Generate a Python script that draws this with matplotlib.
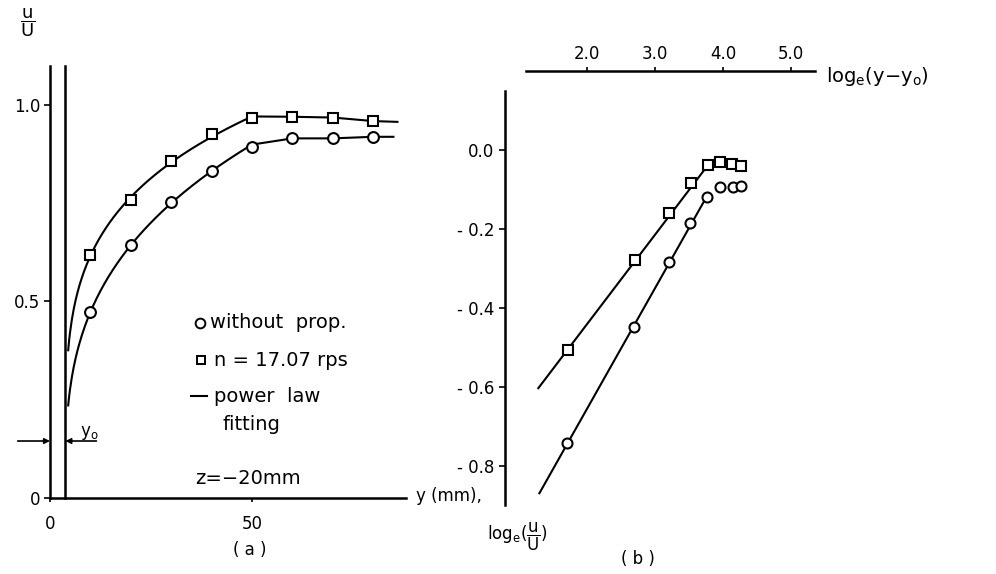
import numpy as np
import matplotlib
matplotlib.use("Agg")
import matplotlib.pyplot as plt
from matplotlib.lines import Line2D

plt.rcParams['font.family'] = ['DejaVu Sans']
plt.rcParams['mathtext.default'] = 'regular'

# ---- (a) velocity profile u/U against y ----
y_mm = [10, 20, 30, 40, 50, 60, 70, 80]
u_plain = [0.472, 0.644, 0.754, 0.833, 0.894, 0.915, 0.915, 0.919]
u_prop = [0.618, 0.758, 0.857, 0.926, 0.966, 0.970, 0.968, 0.959]
y_zero = 3.8
y_end = [85, 86]            # right end of the plain / propeller curves
u_end = [0.919, 0.957]
n_fit = 5                   # points used for the power-law fit

# ---- (b) log-log form ----
ln_y_plain = [1.71, 2.69, 3.20, 3.51, 3.76, 3.96, 4.15, 4.26]
ln_u_plain = [-0.743, -0.447, -0.283, -0.184, -0.118, -0.093, -0.093, -0.091]
ln_y_prop = [1.725, 2.706, 3.21, 3.53, 3.78, 3.956, 4.137, 4.265]
ln_u_prop = [-0.506, -0.278, -0.159, -0.083, -0.038, -0.031, -0.035, -0.041]
fit_x_plain = [1.30, 3.76]
fit_y_plain = [-0.869, -0.118]
fit_x_prop = [1.284, 3.78]
fit_y_prop = [-0.603, -0.038]

W, H = 996, 574
fig = plt.figure(figsize=(W / 100, H / 100), dpi=100)


def fp(px, py):
    return px / W, 1 - py / H


LW = 1.5
MK = dict(markerfacecolor='white', markeredgecolor='black', markeredgewidth=1.5,
          color='black', zorder=5, clip_on=False)
FS = 12

# ------------------------------------------------------------ panel (a)
axa = fig.add_axes([50 / W, (H - 498) / H, 363.6 / W, 440.2 / H])
axa.set_xlim(0, 90)
axa.set_ylim(0, 1.12)
for s in ('top', 'right'):
    axa.spines[s].set_visible(False)
axa.spines['left'].set_bounds(0, 1.10)
axa.spines['bottom'].set_bounds(0, 88)
for s in ('left', 'bottom'):
    axa.spines[s].set_linewidth(1.8)
axa.set_xticks([0, 50])
axa.set_xticklabels(['0', '50'], fontsize=FS)
axa.set_yticks([0, 0.5, 1.0])
axa.set_yticklabels(['0', '0.5', '1.0'], fontsize=FS)
axa.tick_params(axis='x', direction='out', length=3, width=1.2, pad=9)
axa.tick_params(axis='y', direction='out', length=4, width=1.2, pad=3)

# second wall line at y0
axa.plot([y_zero, y_zero], [0, 1.10], color='black', lw=1.8, clip_on=False)


def power_curve(u_vals, y_stop, u_stop):
    yy = np.array(y_mm[:n_fit]) - y_zero
    n, c = np.polyfit(np.log(yy), np.log(u_vals[:n_fit]), 1)
    xs = np.linspace(0.7, y_mm[n_fit - 1] - y_zero, 200)
    cx = list(xs + y_zero) + list(y_mm[n_fit:]) + [y_stop]
    cy = list(np.exp(c) * xs ** n) + list(u_vals[n_fit:]) + [u_stop]
    return cx, cy


for u_vals, ye, ue, mk, ms in ((u_plain, y_end[0], u_end[0], 'o', 7.8),
                               (u_prop, y_end[1], u_end[1], 's', 7.0)):
    cx, cy = power_curve(u_vals, ye, ue)
    axa.plot(cx, cy, color='black', lw=LW, clip_on=False)
    axa.plot(y_mm, u_vals, linestyle='none', marker=mk, markersize=ms, **MK)

# y0 arrows
ya = 0.145
axa.annotate('', xy=(0, ya), xytext=(-8, ya), annotation_clip=False,
             arrowprops=dict(arrowstyle='-|>', lw=1.2, color='black',
                             mutation_scale=8, shrinkA=0, shrinkB=0))
axa.annotate('', xy=(y_zero, ya), xytext=(11.5, ya), annotation_clip=False,
             arrowprops=dict(arrowstyle='-|>', lw=1.2, color='black',
                             mutation_scale=8, shrinkA=0, shrinkB=0))
fig.text(*fp(80, 433), r'y$_o$', fontsize=FS, va='center', ha='left')

# axis titles
fig.text(*fp(28, 23), r'$\dfrac{u}{U}$', fontsize=13, ha='center', va='center')
fig.text(*fp(416, 496), 'y (mm),', fontsize=FS, ha='left', va='center')
fig.text(*fp(250, 550), '( a )', fontsize=FS, ha='center', va='center')

# key
fig.add_artist(Line2D([200 / W], [1 - 323 / H], marker='o', markersize=7,
                      markerfacecolor='white', markeredgecolor='black',
                      markeredgewidth=1.4, transform=fig.transFigure))
fig.add_artist(Line2D([201 / W], [1 - 360 / H], marker='s', markersize=6,
                      markerfacecolor='white', markeredgecolor='black',
                      markeredgewidth=1.4, transform=fig.transFigure))
fig.add_artist(Line2D([191 / W, 207 / W], [1 - 396 / H, 1 - 396 / H],
                      color='black', lw=LW, transform=fig.transFigure))
KF = 14
fig.text(*fp(210, 323), 'without  prop.', fontsize=KF, va='center')
fig.text(*fp(214, 360), 'n = 17.07 rps', fontsize=KF, va='center')
fig.text(*fp(214, 396), 'power  law', fontsize=KF, va='center')
fig.text(*fp(222, 424), 'fitting', fontsize=KF, va='center')
fig.text(*fp(195, 479), 'z=\u221220mm', fontsize=KF, va='center')

# ------------------------------------------------------------ panel (b)
axb = fig.add_axes([505.4 / W, (H - 513.4) / H, 319.6 / W, 442.4 / H])
axb.set_xlim(0.8, 5.5)
axb.set_ylim(-0.92, 0.2)
for s in ('bottom', 'right'):
    axb.spines[s].set_visible(False)
axb.spines['top'].set_bounds(1.1, 5.35)
axb.spines['left'].set_bounds(-0.90, 0.15)
for s in ('left', 'top'):
    axb.spines[s].set_linewidth(1.8)
axb.xaxis.tick_top()
axb.set_xticks([2, 3, 4, 5])
axb.set_xticklabels(['2.0', '3.0', '4.0', '5.0'], fontsize=FS)
axb.set_yticks([0.0, -0.2, -0.4, -0.6, -0.8])
axb.set_yticklabels(['0.0', '- 0.2', '- 0.4', '- 0.6', '- 0.8'], fontsize=FS)
axb.tick_params(axis='x', direction='out', length=3, width=1.2, pad=3)
axb.tick_params(axis='y', direction='out', length=4, width=1.2, pad=4)

axb.plot(fit_x_plain, fit_y_plain, color='black', lw=LW)
axb.plot(fit_x_prop, fit_y_prop, color='black', lw=LW)
axb.plot(ln_y_plain, ln_u_plain, linestyle='none', marker='o', markersize=7.2, **MK)
axb.plot(ln_y_prop, ln_u_prop, linestyle='none', marker='s', markersize=6.5, **MK)

fig.text(*fp(826, 76), r'log$_e$(y$-$y$_o$)', fontsize=14, ha='left', va='center')
fig.text(*fp(487, 537), r'log$_e$($\dfrac{u}{U}$)', fontsize=FS, ha='left', va='center')
fig.text(*fp(638, 559), '( b )', fontsize=FS, ha='center', va='center')

fig.savefig('out.png', dpi=100)
